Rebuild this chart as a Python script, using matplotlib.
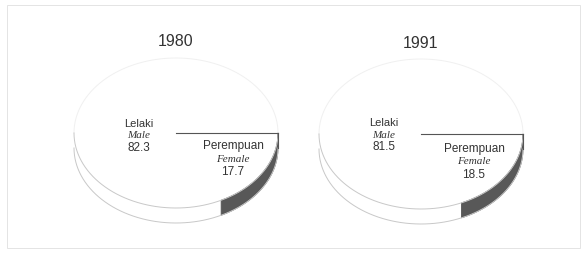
import numpy as np
import matplotlib.pyplot as plt
from matplotlib.patches import Polygon, Rectangle

years = ['1980', '1991']
male = [82.3, 81.5]
female = [17.7, 18.5]
label_male = ('Lelaki', 'Male')
label_female = ('Perempuan', 'Female')

W, H = 583, 260
fig = plt.figure(figsize=(W / 100, H / 100), dpi=100)
ax = fig.add_axes([0, 0, 1, 1])
ax.set_xlim(0, W)
ax.set_ylim(H, 0)
ax.axis('off')

# faint frame of the scanned page
ax.add_patch(Rectangle((7, 5), 573, 243, fill=False, ec='#e4e4e4', lw=0.7))

centers = [(176, 133), (421, 134)]
a, b, depth = 102, 75, 15
txt = '#333333'
sans = 'Liberation Sans'
serif = 'Liberation Serif'


def ell(cx, cy, t, dy=0):
    # screen coords: angle measured counter-clockwise, y grows downward
    return cx + a * np.cos(t), cy - b * np.sin(t) + dy


for k, (cx, cy) in enumerate(centers):
    theta = np.deg2rad(360 * female[k] / (male[k] + female[k]))

    # light side (male part), from -pi to -theta
    t = np.linspace(-np.pi, -theta, 200)
    x1, y1 = ell(cx, cy, t)
    x2, y2 = ell(cx, cy, t[::-1], depth)
    ax.add_patch(Polygon(np.column_stack([np.r_[x1, x2], np.r_[y1, y2]]),
                         fc='white', ec='none'))
    # dark side (female part), from -theta to 0
    t = np.linspace(-theta, 0, 100)
    x1, y1 = ell(cx, cy, t)
    x2, y2 = ell(cx, cy, t[::-1], depth)
    ax.add_patch(Polygon(np.column_stack([np.r_[x1, x2], np.r_[y1, y2]]),
                         fc='#585858', ec='#555555', lw=0.6))

    # outlines
    t = np.linspace(0, np.pi, 200)
    ax.plot(*ell(cx, cy, t), color='#f0f0f0', lw=0.7)
    t = np.linspace(-np.pi, 0, 200)
    ax.plot(*ell(cx, cy, t), color='#c8c8c8', lw=0.7)
    ax.plot(*ell(cx, cy, t, depth), color='#c8c8c8', lw=0.7)
    ax.plot([cx, cx + a], [cy, cy], color='#555555', lw=0.8)
    ax.plot([cx + a, cx + a], [cy, cy + depth], color='#555555', lw=0.8)

    # title
    ax.text(cx, 42 + k * 2, years[k], ha='center', va='center',
            fontsize=11.5, family=sans, color=txt)

    # male labels
    mx = cx - 37
    ax.text(mx, cy - 9 - k * 2, label_male[0], ha='center', va='center',
            fontsize=8, family=sans, color=txt)
    ax.text(mx, cy + 3 - k * 2, label_male[1], ha='center', va='center',
            fontsize=8, family=serif, style='italic', color=txt)
    ax.text(mx, cy + 15 - k * 2, f'{male[k]:.1f}', ha='center', va='center',
            fontsize=8.5, family=sans, color=txt)

    # female labels
    fx = cx + 57 - k * 4
    ax.text(fx, cy + 13 + k * 2, label_female[0], ha='center', va='center',
            fontsize=8.5, family=sans, color=txt)
    ax.text(fx, cy + 27 + k * 1, label_female[1], ha='center', va='center',
            fontsize=8, family=serif, style='italic', color=txt)
    ax.text(fx, cy + 39 + k * 2, f'{female[k]:.1f}', ha='center', va='center',
            fontsize=8.5, family=sans, color=txt)

fig.savefig('out.png', dpi=100)
